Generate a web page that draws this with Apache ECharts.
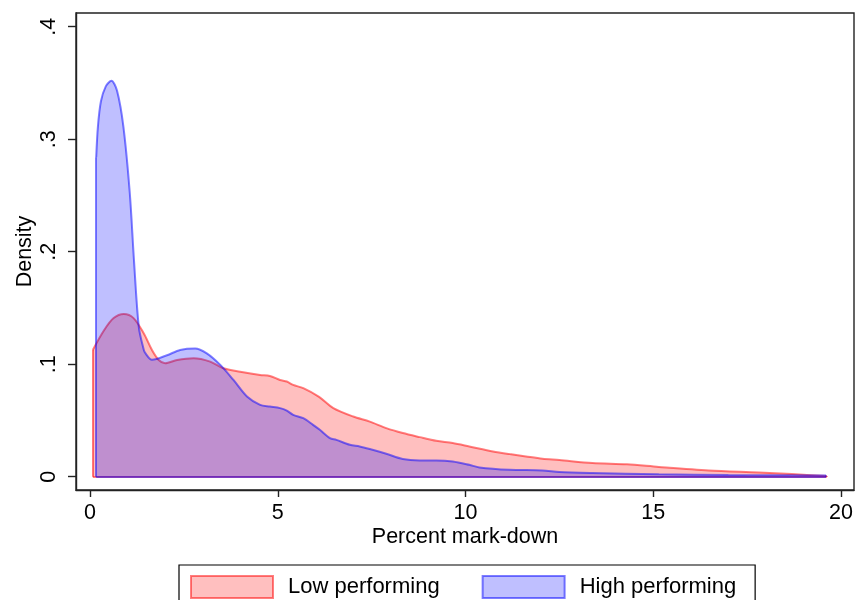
<!DOCTYPE html>
<html>
<head>
<meta charset="utf-8">
<script src="https://cdn.jsdelivr.net/npm/echarts@6/dist/echarts.min.js"></script>
<style>html,body{margin:0;padding:0;background:#fff}#c{width:857px;height:600px}</style>
</head>
<body>
<div id="c"></div>
<script>
// Percent mark-down values (x) and density estimates (y)
const lowX  = [0.075, 0.37, 0.63, 0.90, 1.16, 1.43, 1.65, 1.83, 2.00, 2.32, 2.76, 3.20, 3.55, 4.00, 4.53, 4.79, 5.06, 5.24, 5.41, 5.68, 6.10, 6.48, 7.01, 7.45, 7.89, 8.33, 8.78, 9.22, 9.66, 10.10, 10.73, 11.17, 11.61, 12.05, 12.50, 13.38, 14.30, 15.15, 16.48, 17.81, 18.69, 19.62];
const lowY  = [0.1127, 0.130, 0.141, 0.1446, 0.141, 0.1275, 0.1127, 0.1038, 0.1009, 0.1038, 0.1053, 0.1023, 0.0964, 0.0934, 0.0905, 0.0896, 0.0860, 0.0846, 0.0816, 0.0787, 0.0710, 0.0610, 0.0535, 0.0490, 0.0432, 0.0388, 0.0352, 0.0319, 0.0299, 0.0269, 0.0225, 0.0201, 0.0180, 0.0160, 0.0148, 0.0121, 0.0110, 0.0087, 0.0056, 0.0038, 0.0024, 0.0006];
const highX = [0.165, 0.21, 0.29, 0.42, 0.57, 0.72, 0.89, 1.06, 1.17, 1.30, 1.43, 1.47, 1.65, 2.05, 2.40, 2.80, 3.11, 3.47, 3.82, 4.18, 4.53, 4.79, 5.06, 5.24, 5.41, 5.68, 5.94, 6.12, 6.39, 6.56, 6.92, 7.18, 7.45, 7.89, 8.33, 8.78, 9.22, 9.66, 10.10, 10.37, 11.17, 12.05, 12.50, 13.38, 15.15, 17.00, 19.60];
const highY = [0.284, 0.311, 0.3335, 0.347, 0.352, 0.343, 0.311, 0.252, 0.193, 0.133, 0.113, 0.110, 0.104, 0.108, 0.1127, 0.114, 0.1097, 0.0994, 0.0860, 0.0713, 0.0639, 0.0624, 0.0610, 0.0588, 0.0550, 0.0520, 0.0461, 0.0417, 0.0343, 0.0328, 0.0284, 0.0269, 0.0246, 0.0204, 0.0157, 0.0145, 0.0145, 0.0136, 0.0106, 0.0083, 0.0062, 0.0056, 0.0042, 0.0033, 0.0022, 0.0015, 0.0010];
const xTicks = [0, 5, 10, 15, 20];
const yTicks = [0, 0.1, 0.2, 0.3, 0.4];
const yTickLabels = ['0', '.1', '.2', '.3', '.4'];
const seriesNames = ['Low performing', 'High performing'];

const FONT = 'Liberation Sans, Arial, sans-serif';
const RED_FILL = 'rgba(255,0,0,0.25)', RED_LINE = 'rgba(255,0,0,0.5)';
const BLUE_FILL = 'rgba(0,0,255,0.25)', BLUE_LINE = 'rgba(0,0,255,0.5)';

function pairs(xs, ys) { return xs.map((x, i) => [x, ys[i]]); }
function edges(xs, ys, color) {
  const n = xs.length;
  return {
    silent: true, symbol: 'none',
    lineStyle: { color: color, width: 2, type: 'solid' },
    label: { show: false },
    emphasis: { disabled: true },
    data: [
      [{ coord: [xs[0], 0] }, { coord: [xs[0], ys[0]] }],
      [{ coord: [xs[0], 0] }, { coord: [xs[n - 1], 0] }],
      [{ coord: [xs[n - 1], 0] }, { coord: [xs[n - 1], ys[n - 1]] }]
    ]
  };
}

const chart = echarts.init(document.getElementById('c'), null, { renderer: 'canvas' });
chart.setOption({
  backgroundColor: '#fff',
  animation: false,
  textStyle: { fontFamily: FONT },
  grid: { left: 76, right: 3, top: 13, bottom: 110, show: true, borderColor: '#222', borderWidth: 1.4 },
  xAxis: {
    type: 'value', min: -0.373, max: 20.346,
    name: 'Percent mark-down', nameLocation: 'middle', nameGap: 36, nameMoveOverlap: false,
    nameTextStyle: { fontSize: 21.5, color: '#000', fontFamily: FONT },
    axisLine: { show: true, onZero: false, lineStyle: { color: '#222', width: 1.4 } },
    axisTick: { show: true, length: 7, lineStyle: { color: '#222', width: 1.4 }, customValues: xTicks },
    axisLabel: { fontSize: 21.5, color: '#000', margin: 12, fontFamily: FONT, customValues: xTicks },
    splitLine: { show: false }
  },
  yAxis: {
    type: 'value', min: -0.0118, max: 0.4122,
    name: 'Density', nameLocation: 'middle', nameGap: 40, nameMoveOverlap: false,
    nameTextStyle: { fontSize: 21.5, color: '#000', fontFamily: FONT },
    axisLine: { show: true, onZero: false, lineStyle: { color: '#222', width: 1.4 } },
    axisTick: { show: true, length: 8, lineStyle: { color: '#222', width: 1.4 }, customValues: yTicks },
    axisLabel: {
      fontSize: 21.5, color: '#000', margin: 16, rotate: 90, fontFamily: FONT, customValues: yTicks,
      formatter: v => { const i = yTicks.findIndex(t => Math.abs(t - v) < 1e-9); return i >= 0 ? yTickLabels[i] : ''; }
    },
    splitLine: { show: false }
  },
  legend: {
    left: 179, top: 565,
    orient: 'horizontal',
    padding: [10, 19, 10, 11],
    itemGap: 42,
    itemWidth: 82, itemHeight: 22,
    borderColor: '#000', borderWidth: 1.2,
    textStyle: { fontSize: 22, color: '#000', fontFamily: FONT, padding: [0, 0, 0, 10] },
    data: [
      { name: seriesNames[0], icon: 'rect', itemStyle: { color: RED_FILL, borderColor: RED_LINE, borderWidth: 2 } },
      { name: seriesNames[1], icon: 'rect', itemStyle: { color: BLUE_FILL, borderColor: BLUE_LINE, borderWidth: 2 } }
    ]
  },
  series: [
    {
      name: seriesNames[0], type: 'line', data: pairs(lowX, lowY),
      smooth: 0.3, showSymbol: false, symbol: 'none',
      lineStyle: { color: RED_LINE, width: 2 },
      itemStyle: { color: RED_FILL, borderColor: RED_LINE },
      areaStyle: { color: RED_FILL, origin: 0, opacity: 1 },
      markLine: edges(lowX, lowY, RED_LINE),
      z: 2
    },
    {
      name: seriesNames[1], type: 'line', data: pairs(highX, highY),
      smooth: 0.3, showSymbol: false, symbol: 'none',
      lineStyle: { color: BLUE_LINE, width: 2 },
      itemStyle: { color: BLUE_FILL, borderColor: BLUE_LINE },
      areaStyle: { color: BLUE_FILL, origin: 0, opacity: 1 },
      markLine: edges(highX, highY, BLUE_LINE),
      z: 3
    }
  ]
});
</script>
</body>
</html>
